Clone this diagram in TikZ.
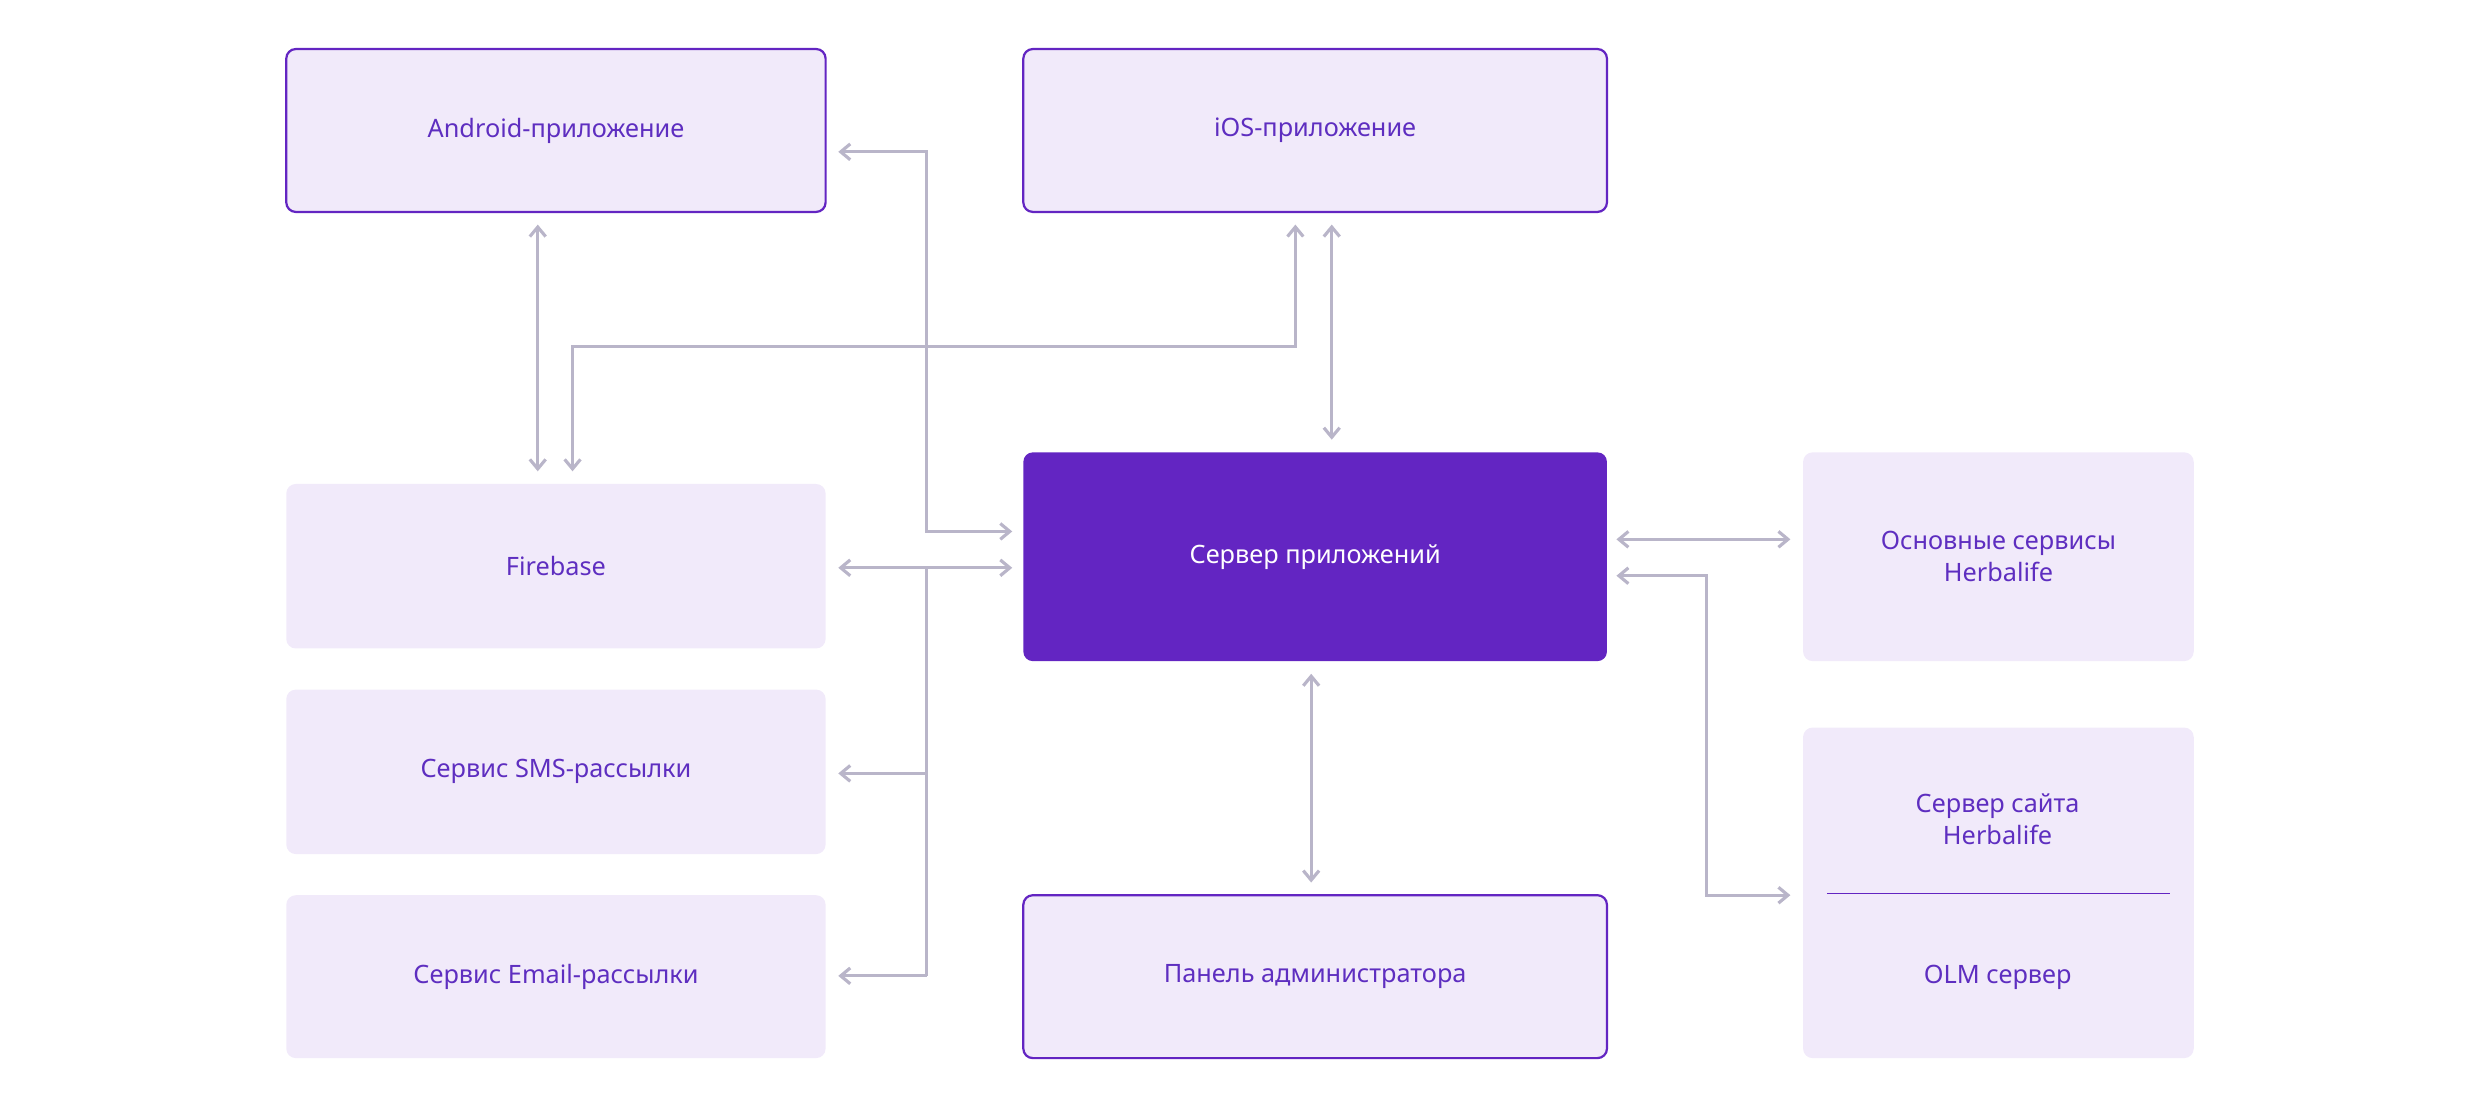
\documentclass[tikz,border=0pt]{standalone}
\usepackage{fontspec}
\setmainfont{Noto Sans}
\usetikzlibrary{arrows.meta}
\definecolor{lav}{HTML}{F1EAFA}
\definecolor{pur}{HTML}{6325C2}
\definecolor{ptxt}{HTML}{5E2EC0}
\definecolor{gr}{HTML}{B9B5C9}
\begin{document}
\begin{tikzpicture}[x=1pt,y=-1pt,
 box/.style={fill=lav,rounded corners=6pt,text=ptxt,font=\fontsize{16}{20}\selectfont,align=center},
 ob/.style={box,draw=pur,line width=1.4pt},
 ar/.style={draw=gr,line width=2pt,{Straight Barb[length=6pt,width=10pt]}-{Straight Barb[length=6pt,width=10pt]}},
 ln/.style={draw=gr,line width=2pt,-{Straight Barb[length=6pt,width=10pt]}}]
\useasboundingbox (0,0) rectangle (1568,700.6);
\path[ob] (181,31) rectangle (522,134) node[midway,text=ptxt] (and) {Android-приложение};
\path[ob] (647,31) rectangle (1016,134) node[midway,text=ptxt] (ios) {iOS-приложение};
\path[box] (181,306) rectangle (522,410) node[midway,text=ptxt] (fb) {Firebase};
\path[box] (181,436) rectangle (522,540) node[midway,text=ptxt] (sms) {Сервис SMS-рассылки};
\path[box] (181,566) rectangle (522,669) node[midway,text=ptxt] (em) {Сервис Email-рассылки};
\path[fill=pur,rounded corners=6pt] (647,286) rectangle (1016,418) node[midway,text=white,font=\fontsize{16}{20}\selectfont] (srv) {Сервер приложений};
\path[ob] (647,566) rectangle (1016,669) node[midway,text=ptxt] (adm) {Панель администратора};
\path[box] (1140,286) rectangle (1387,418) node[midway,text=ptxt,align=center] (hs) {Основные сервисы\\Herbalife};
\path[box] (1140,460) rectangle (1387,669);
\node[text=ptxt,font=\fontsize{16}{20}\selectfont,align=center] (site) at (1263,518) {Сервер сайта\\Herbalife};
\node[text=ptxt,font=\fontsize{16}{20}\selectfont] (olm) at (1263,618) {OLM сервер};
\draw[pur,line width=0.8pt] (1155,565) -- (1372,565);
\coordinate (j) at (586,359);
\draw[ar] (530,96) -- (586,96) -- (586,336) -- (640,336);
\draw[ar] (340,142) -- (340,298);
\draw[ar] (819,142) -- (819,219) -- (362,219) -- (362,298);
\draw[ar] (842,142) -- (842,278);
\draw[ar] (530,359) -- (640,359);
\draw[draw=gr,line width=2pt] (j) -- (586,617);
\draw[ln] (586,489) -- (530,489);
\draw[ln] (586,617) -- (530,617);
\draw[ar] (1022,341) -- (1132,341);
\draw[ar] (1022,364) -- (1079,364) -- (1079,566) -- (1132,566);
\draw[ar] (829,426) -- (829,558);
\end{tikzpicture}
\end{document}
